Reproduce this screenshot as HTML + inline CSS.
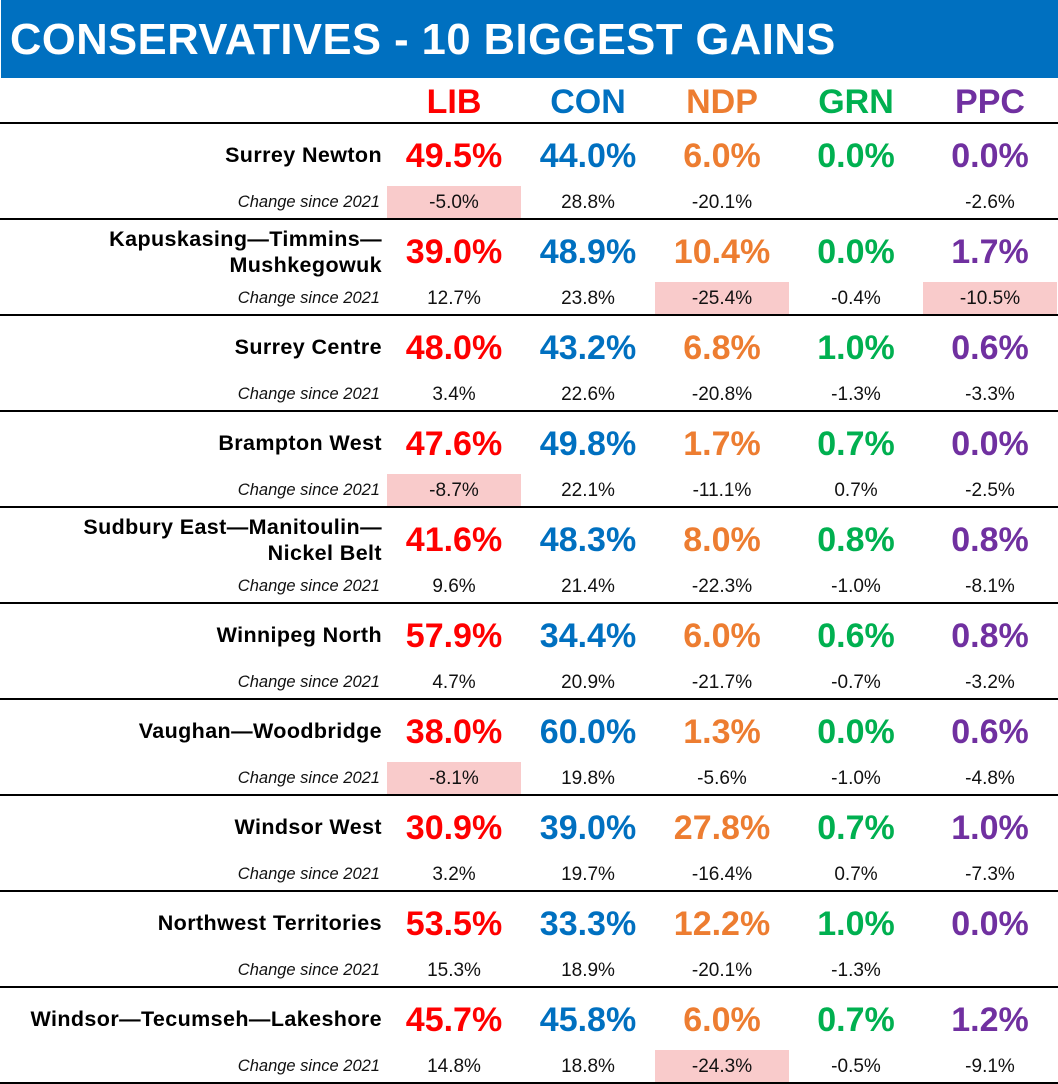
<!DOCTYPE html>
<html><head><meta charset="utf-8">
<style>
body{margin:0;width:1058px;height:1084px;background:#fff;position:relative;overflow:hidden;font-family:"Liberation Sans",sans-serif}
.a{position:absolute}
#title{left:1px;top:0;width:1057px;height:78px;background:#0070C0;color:#fff;font-weight:bold;font-size:43.5px;line-height:80px;padding-left:9px;box-sizing:border-box;letter-spacing:0.5px}
.hd{font-weight:bold;font-size:34px;text-align:center;width:134px;top:80px;line-height:44px}
.line{left:0;width:1058px;height:2px;background:#000}
.val{font-weight:bold;font-size:34px;text-align:center;width:134px;line-height:40px}
.chg{font-size:19px;text-align:center;width:134px;line-height:33px;color:#111}
.lbl{font-style:italic;font-size:16.5px;right:678px;line-height:33px;color:#111}
.nm{font-weight:bold;font-size:21.5px;right:676px;text-align:right;line-height:26px;letter-spacing:0.4px}
</style></head><body>
<div id="title" class="a">CONSERVATIVES - 10 BIGGEST GAINS</div>
<script>
const parties=["LIB","CON","NDP","GRN","PPC"];
const colors=["#FF0000","#0070C0","#ED7D31","#00B050","#7030A0"];
const ridings=[["Surrey Newton"],["Kapuskasing—Timmins—","Mushkegowuk"],["Surrey Centre"],["Brampton West"],["Sudbury East—Manitoulin—","Nickel Belt"],["Winnipeg North"],["Vaughan—Woodbridge"],["Windsor West"],["Northwest Territories"],["Windsor—Tecumseh—Lakeshore"]];
const shares=[[49.5,44.0,6.0,0.0,0.0],[39.0,48.9,10.4,0.0,1.7],[48.0,43.2,6.8,1.0,0.6],[47.6,49.8,1.7,0.7,0.0],[41.6,48.3,8.0,0.8,0.8],[57.9,34.4,6.0,0.6,0.8],[38.0,60.0,1.3,0.0,0.6],[30.9,39.0,27.8,0.7,1.0],[53.5,33.3,12.2,1.0,0.0],[45.7,45.8,6.0,0.7,1.2]];
const changes=[[-5.0,28.8,-20.1,null,-2.6],[12.7,23.8,-25.4,-0.4,-10.5],[3.4,22.6,-20.8,-1.3,-3.3],[-8.7,22.1,-11.1,0.7,-2.5],[9.6,21.4,-22.3,-1.0,-8.1],[4.7,20.9,-21.7,-0.7,-3.2],[-8.1,19.8,-5.6,-1.0,-4.8],[3.2,19.7,-16.4,0.7,-7.3],[15.3,18.9,-20.1,-1.3,null],[14.8,18.8,-24.3,-0.5,-9.1]];
const highlights=[[0,0],[1,2],[1,4],[3,0],[6,0],[9,2]];
const colX=i=>387+i*134;
const rowY=r=>123+r*96;
function mk(cls,txt,css){const d=document.createElement('div');d.className='a '+cls;if(txt!=null)d.textContent=txt;Object.assign(d.style,css);document.body.appendChild(d);return d;}
parties.forEach((p,i)=>{const d=mk('hd',p,{left:colX(i)+'px',color:colors[i]});

});
highlights.forEach(([r,c])=>{const d=mk('',null,{left:colX(c)+'px',top:(rowY(r)+63)+'px',width:'134px',height:'33px',background:'#F9CBCB'});

});
for(let r=0;r<=10;r++){const d=mk('line',null,{top:(rowY(r)-1)+'px'});

}
ridings.forEach((nm,r)=>{const y=rowY(r);
const n=mk('nm',null,{top:(nm.length>1?y+7:y+19)+'px'});n.innerHTML=nm.join('<br>');


const l=mk('lbl','Change since 2021',{top:(y+63)+'px'});


shares[r].forEach((v,i)=>{const d=mk('val',v.toFixed(1)+'%',{left:colX(i)+'px',top:(y+13)+'px',color:colors[i]});

});
changes[r].forEach((v,i)=>{if(v===null)return;const d=mk('chg',v.toFixed(1)+'%',{left:colX(i)+'px',top:(y+63)+'px'});

});
});
</script>
</body></html>
